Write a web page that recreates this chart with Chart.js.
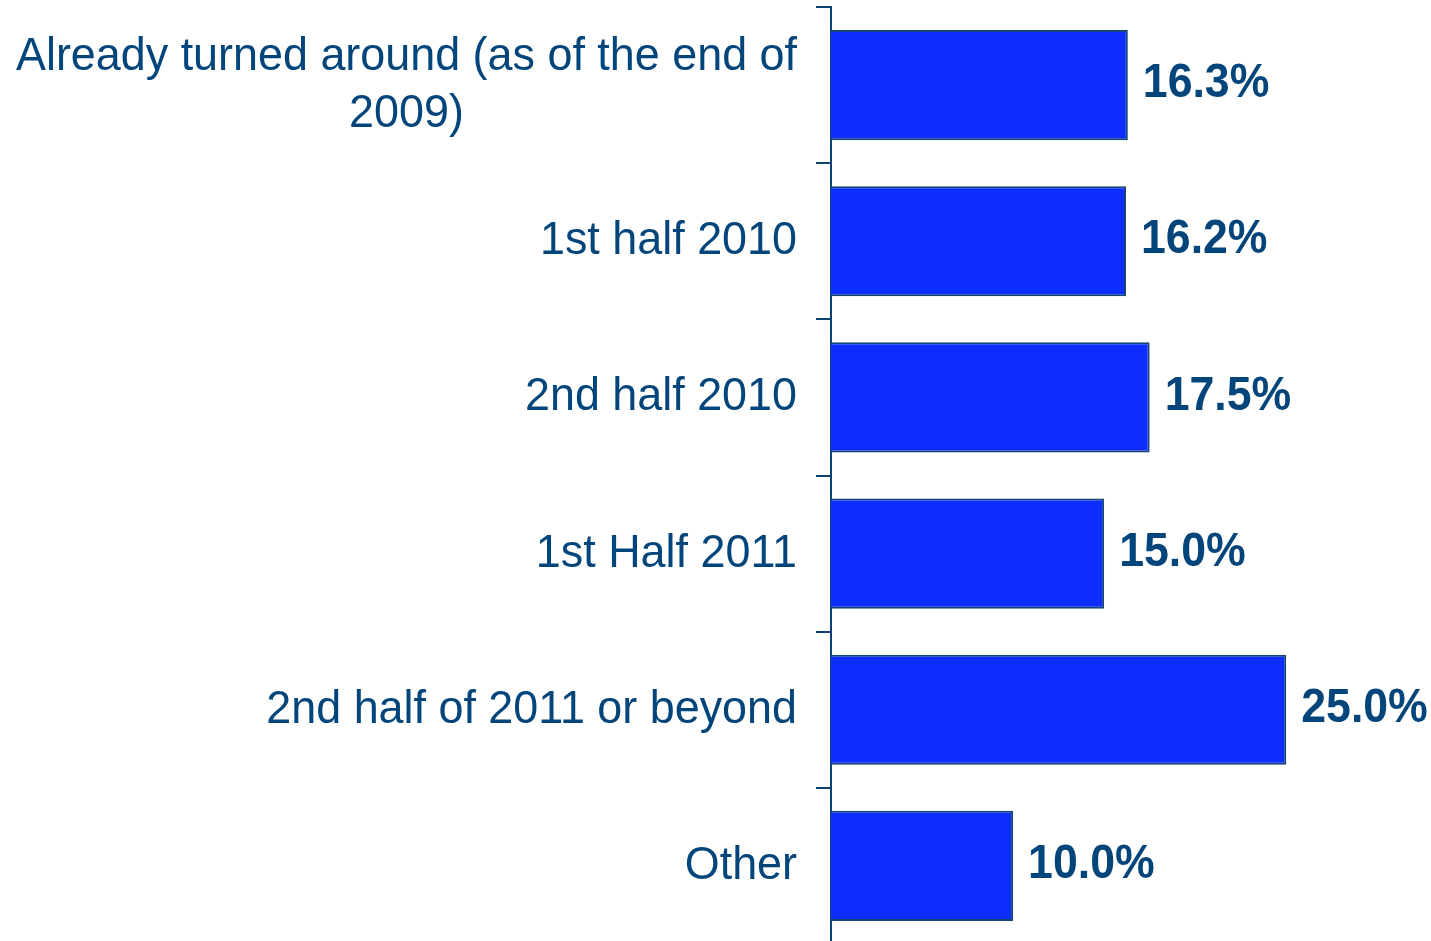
<!DOCTYPE html>
<html>
<head>
<meta charset="utf-8">
<script src="https://cdn.jsdelivr.net/npm/chart.js@4/dist/chart.umd.min.js"></script>
<style>
html,body{margin:0;padding:0;background:#fff;overflow:hidden;}
#wrap{width:1431px;height:944px;}
</style>
</head>
<body>
<div id="wrap"><canvas id="c" width="1431" height="944"></canvas></div>
<script>
const categories = [
  ['Already turned around (as of the end of', '2009)'],
  ['1st half 2010'],
  ['2nd half 2010'],
  ['1st Half 2011'],
  ['2nd half of 2011 or beyond'],
  ['Other']
];
const values = [16.3, 16.2, 17.5, 15.0, 25.0, 10.0];
const valueLabels = ['16.3%', '16.2%', '17.5%', '15.0%', '25.0%', '10.0%'];

const TEXT = '#02457b';
const AXIS = '#0b4272';

const labelPlugin = {
  id: 'labels',
  afterDatasetsDraw(chart) {
    const ctx = chart.ctx;
    const y = chart.scales.y;
    const meta = chart.getDatasetMeta(0);
    ctx.save();
    ctx.fillStyle = TEXT;
    ctx.textBaseline = 'middle';
    const sx = 0.955;
    ctx.font = '47px "Liberation Sans", Arial, sans-serif';
    const rightX = 797;
    const lh = 57;
    categories.forEach((lines, i) => {
      const cy = y.getPixelForValue(i);
      ctx.save();
      ctx.translate(rightX, 0);
      ctx.scale(sx, 1);
      if (lines.length === 1) {
        ctx.textAlign = 'right';
        ctx.fillText(lines[0], 0, cy);
      } else {
        const w0 = ctx.measureText(lines[0]).width;
        ctx.textAlign = 'center';
        lines.forEach((ln, k) => {
          ctx.fillText(ln, -w0 / 2, cy + (k - (lines.length - 1) / 2) * lh);
        });
      }
      ctx.restore();
    });
    ctx.font = 'bold 48px "Liberation Sans", Arial, sans-serif';
    ctx.textAlign = 'left';
    meta.data.forEach((bar, i) => {
      ctx.save();
      ctx.translate(bar.x + 15, bar.y - 1);
      ctx.scale(0.93, 1);
      ctx.fillText(valueLabels[i], 0, 0);
      ctx.restore();
    });
    ctx.restore();
  }
};

new Chart(document.getElementById('c'), {
  type: 'bar',
  data: {
    labels: categories,
    datasets: [{
      data: values,
      backgroundColor: '#0d2eff',
      borderColor: '#164677',
      borderWidth: 2,
      borderSkipped: 'start',
      barPercentage: 0.705,
      categoryPercentage: 1.0
    }]
  },
  options: {
    indexAxis: 'y',
    responsive: false,
    devicePixelRatio: 1,
    animation: false,
    layout: { padding: { top: 7, bottom: 0, left: 0, right: 0 } },
    plugins: { legend: { display: false }, tooltip: { enabled: false } },
    scales: {
      x: { display: false, min: 0, max: 32.95 },
      y: {
        offset: true,
        afterFit(scale) { scale.width = 831; },
        ticks: { display: false },
        grid: {
          offset: true,
          drawOnChartArea: false,
          drawTicks: true,
          tickLength: 15,
          color: AXIS,
          lineWidth: 2
        },
        border: { display: true, color: AXIS, width: 2 }
      }
    }
  },
  plugins: [labelPlugin]
});
</script>
</body>
</html>
